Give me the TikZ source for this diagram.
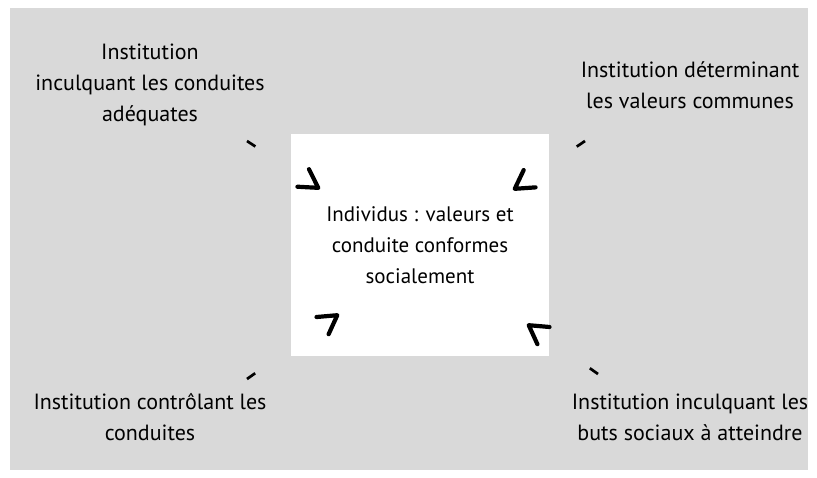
\documentclass[tikz,border=0pt]{standalone}
\usepackage{fontspec}
\setmainfont{PT Sans}
\usetikzlibrary{arrows.meta}
\definecolor{fond}{RGB}{217,217,217}
\tikzset{lien/.style={line width=2.7pt, dash pattern=on 10pt off 400pt,
    -{Straight Barb[length=18pt,width=21pt,line width=4.2pt,round]}},
  inst/.style={align=center, font=\fontsize{22}{31}\selectfont}}

\begin{document}
\begin{tikzpicture}[x=1pt,y=-1pt]
  \useasboundingbox (0,0) rectangle (817,478);
  \fill [fond] (10,8) rectangle (808,470);
  % centre
  \node [inst, font=\fontsize{21}{31}\selectfont, fill=white, minimum width=258pt, minimum height=222pt] (indiv) at (420,245)
    {Individus : valeurs et\\conduite conformes\\socialement};
  % institutions
  \node [inst] (adeq) at (150,85) {Institution\\inculquant les conduites\\adéquates};
  \node [inst] (valeurs) at (690,85) {Institution déterminant\\les valeurs communes};
  \node [inst] (controle) at (150,417) {Institution contrôlant les\\conduites};
  \node [inst] (buts) at (690,417) {Institution inculquant les\\buts sociaux à atteindre};

  \coordinate (a1) at (247,141);  \coordinate (a2) at (320,189);
  \coordinate (b1) at (585,141);  \coordinate (b2) at (513,190);
  \coordinate (c1) at (247,379);  \coordinate (c2) at (339,314);
  \coordinate (d1) at (598,374);  \coordinate (d2) at (527,324);
  \draw [lien] (a1) -- (a2);
  \draw [lien] (b1) -- (b2);
  \draw [lien] (c1) -- (c2);
  \draw [lien] (d1) -- (d2);
\end{tikzpicture}
\end{document}
